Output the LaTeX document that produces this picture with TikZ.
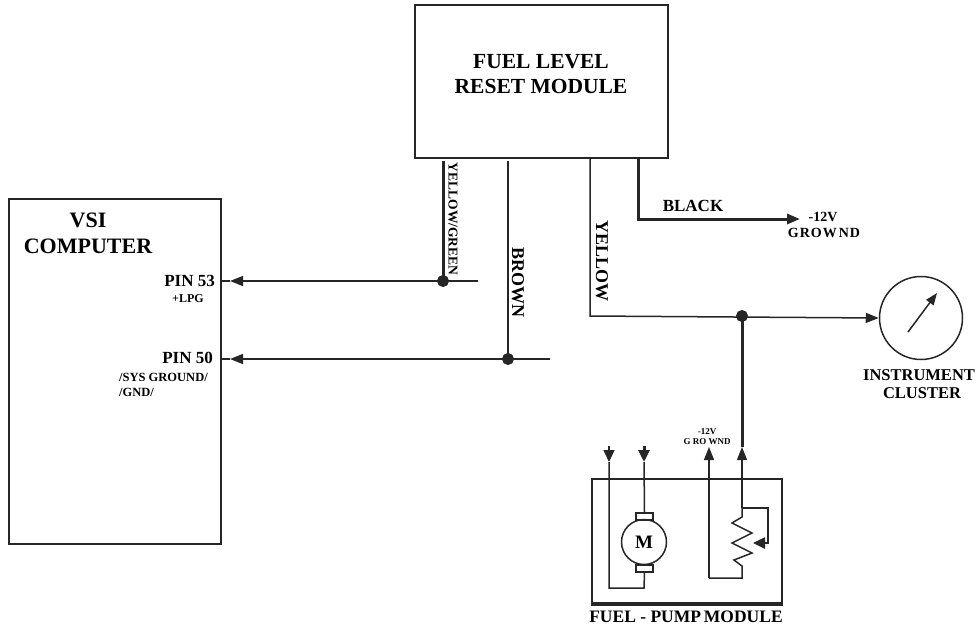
\documentclass[tikz,border=0pt]{standalone}
\usepackage{fontspec}
\setmainfont{Liberation Serif}
\usetikzlibrary{arrows.meta}
\tikzset{
  wire/.style={line width=1.5pt, draw=black!85},
  thickwire/.style={line width=3pt, draw=black!85},
  box/.style={draw=black!85, line width=2pt, inner sep=0pt},
  tip/.style={-{Triangle[length=13pt,width=10pt]}},
  dot/.style={circle, fill=black!85, draw=black!85, line width=1pt, inner sep=0pt, minimum size=11pt},
  lbl/.style={font=\bfseries\fontsize{#1}{#1}\selectfont, inner sep=0pt, text=black},
}
\begin{document}
\begin{tikzpicture}[x=1pt,y=-1pt]
\useasboundingbox (0,0) rectangle (980,627);
% boxes
\node[box, minimum width=253pt, minimum height=153pt] (reset) at (541.5,81.5) {};
\node[box, minimum width=212pt, minimum height=345pt] (vsi) at (115,371.5) {};
\node[box, minimum width=190pt, minimum height=124pt] (pump) at (687,541) {};
\draw[line width=3pt, black!85] (pump.south west) -- (pump.south east);
\node[draw=black!85, line width=1.5pt, circle, minimum size=83pt, inner sep=0pt] (gauge) at (921,318) {};
\node[draw=black!85, line width=1.5pt, circle, minimum size=45pt, inner sep=0pt] (motor) at (644,542) {};
\node[draw=black!85, line width=1.5pt, minimum width=17pt, minimum height=7pt, inner sep=0pt] (brtop) at (644.5,516.5) {};
\node[draw=black!85, line width=1.5pt, minimum width=17pt, minimum height=7pt, inner sep=0pt] (brbot) at (644.5,568.5) {};
% texts
\node[lbl=21.5, align=center] (resettxt) at (541,74) {FUEL LEVEL\\[4pt]RESET MODULE};
\node[lbl=22, align=center] (vsitxt) at (88,233) {VSI\\[4pt]COMPUTER};
\node[lbl=17, anchor=east] (pin53) at (215,281) {PIN 53};
\node[lbl=12] (lpg) at (188,299) {+LPG};
\node[lbl=17, anchor=east] (pin50) at (213,358) {PIN 50};
\node[lbl=12.5, anchor=west] (sysg) at (119,377) {/SYS GROUND/};
\node[lbl=12.5, anchor=west] (gnd) at (119,392) {/GND/};
\node[lbl=13.5, rotate=-90] (ygtxt) at (453,219) {YELLOW/GREEN};
\node[lbl=18, rotate=-90] (browntxt) at (518,282) {BROWN};
\node[lbl=18, rotate=-90] (yellowtxt) at (602,261) {YELLOW};
\node[lbl=17] (blacktxt) at (693,206) {BLACK};
\node[lbl=14] (m12) at (823,217) {-12V};
\node[lbl=14] (grownd) at (824,233) {G\kern1ptR\kern1ptO\kern1ptW\kern2ptN\kern1ptD};
\node[lbl=16.5] (instr) at (919,375) {INSTRUMENT};
\node[lbl=16.5] (clus) at (922,393) {CLUSTER};
\node[lbl=9] (m12b) at (707,432) {-12V};
\node[lbl=9] (growndb) at (707,442) {G RO WND};
\node[lbl=19] (mtxt) at (motor) {M};
\node[lbl=17.5] (pumptxt) at (686,617) {FUEL - PUMP\,MODULE};
% junctions
\node[dot] (jyg) at (443,281) {};
\node[dot] (jbr) at (508,359) {};
\node[dot] (jye) at (742,316) {};
\coordinate (ygtop) at (443,161);
\coordinate (ygend) at (478,281);
\coordinate (brtopc) at (508,161);
\coordinate (brend) at (550,359);
\coordinate (p53) at (230,281);
\coordinate (p50) at (230,359);
% yellow/green
\draw[thickwire] (ygtop) -- (jyg.center);
\draw[wire] (jyg.center) -- (ygend);
\draw[wire, tip] (jyg.center) -- (p53);
\draw[wire] (p53) -- (vsi.east |- p53);
% brown
\draw[wire] (brtopc) -- (jbr.center) -- (brend);
\draw[wire, tip] (jbr.center) -- (p50);
\draw[wire] (p50) -- (vsi.east |- p50);
% yellow
\draw[wire, tip] (590,158) -- (590,316) -- (gauge.west);
% black
\draw[thickwire, tip] (638,158) -- (638,219) -- (800,219);
% gauge needle
\draw[wire, -{Triangle[length=12pt,width=9pt]}] (908,332) -- (937,293);
% sensor wire
\draw[thickwire] (jye.center) -- (742,447);
\draw[wire, tip] (742,508) -- (742,447);
\draw[wire, line join=miter] (742,508) -- (742,517) -- (732,523) -- (752,533) -- (732,543) -- (752,553) -- (734,560) -- (742,566) -- (742,578) -- (709,578);
\draw[wire, tip] (709,578) -- (709,447);
\draw[line width=2.5pt, black!85, -{Triangle[length=12pt,width=11pt]}] (742,508) -- (768,508) -- (768,543) -- (753,543);
% motor wires
\draw[thickwire, -{Triangle[length=12pt,width=11pt]}] (644,446) -- (644,462);
\draw[wire] (644,462) -- (brtop.north);
\draw[wire, -{Triangle[length=12pt,width=11pt]}] (609,446) -- (609,462);
\draw[wire] (609,462) -- (609,588) -- (644,588) -- (brbot.south);
% redraw dots on top
\fill[black!85] (jyg) circle[radius=5.5pt] (jbr) circle[radius=5.5pt] (jye) circle[radius=5.5pt];
\end{tikzpicture}
\end{document}
